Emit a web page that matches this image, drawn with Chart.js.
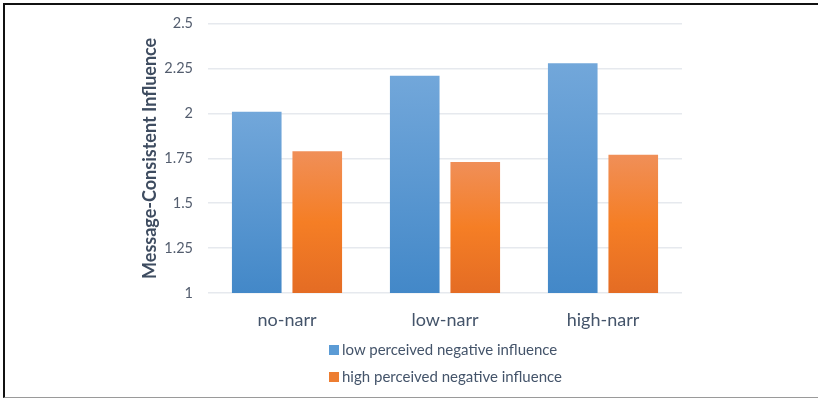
<!DOCTYPE html>
<html>
<head>
<meta charset="utf-8">
<script src="https://cdn.jsdelivr.net/npm/chart.js@4/dist/chart.umd.min.js"></script>
<style>
  html, body { margin: 0; padding: 0; background: #fff; }
  #wrap { position: relative; width: 818px; height: 398px; }
  #frame { position: absolute; left: 3px; top: 3px; width: 813px; height: 392px;
    border-top: 2px solid #111; border-left: 2px solid #111;
    border-bottom: 1px solid #9a9a9a; border-right: 1px solid #9a9a9a; pointer-events: none; }
  #legend { position: absolute; left: 329px; top: 339px; margin: 0; padding: 0; list-style: none;
    font-family: Lato, "Open Sans", sans-serif; font-size: 15px; color: #44546A; }
  #legend li { height: 27px; line-height: 21px; white-space: nowrap; }
  #legend span.box { display: inline-block; width: 10px; height: 10px; margin-right: 3px; vertical-align: -0px; }
</style>
</head>
<body>
<div id="wrap">
  <canvas id="bar-chart" width="818" height="398"></canvas>
  <ul id="legend"></ul>
  <div id="frame"></div>
</div>
<script>
// chart data
var categories = ['no-narr', 'low-narr', 'high-narr'];
var lowInfluence = [2.01, 2.21, 2.28];
var highInfluence = [1.79, 1.73, 1.77];
var yTicks = [1, 1.25, 1.5, 1.75, 2, 2.25, 2.5];

var seriesNames = ['low perceived negative influence', 'high perceived negative influence'];
var legendColors = ['#5B9BD5', '#ED7D31'];

// gradient per bar, top of bar to axis
makeGradient = function (stops) {
  return function (ctx) {
    var chart = ctx.chart;
    if (!chart.chartArea || !chart.scales.y || ctx.raw == null) return stops[stops.length - 1][1];
    var y = chart.scales.y;
    var top = y.getPixelForValue(ctx.raw);
    var bottom = y.getPixelForValue(y.min);
    var g = chart.ctx.createLinearGradient(0, top, 0, bottom);
    stops.forEach(s => g.addColorStop(s[0], s[1]));
    return g;
  };
}

var blueStops = [[0, '#72A7DA'], [1, '#4388C8']];
var orangeStops = [[0, '#F08F58'], [0.5, '#F57E25'], [1, '#E46C24']];

// html legend, built from the datasets
var htmlLegend = {
  id: 'htmlLegend',
  afterUpdate: function (chart) {
    var ul = document.getElementById('legend');
    ul.innerHTML = '';
    chart.data.datasets.forEach((ds, i) => {
      var li = document.createElement('li');
      li.innerHTML = '<span class="box" style="background:' + legendColors[i] + '"></span>' + ds.label;
      ul.appendChild(li);
    });
  }
};

var ctx = document.getElementById('bar-chart').getContext('2d');
var barChart = new Chart(ctx, {
  type: 'bar',
  data: {
    labels: categories,
    datasets: [
      { label: seriesNames[0], data: lowInfluence, backgroundColor: makeGradient(blueStops) },
      { label: seriesNames[1], data: highInfluence, backgroundColor: makeGradient(orangeStops) }
    ]
  },
  options: {
    responsive: false,
    animation: false,
    layout: { padding: { left: 0, right: 136, top: 23, bottom: 0 } },
    datasets: { bar: { categoryPercentage: 0.766, barPercentage: 0.82 } },
    plugins: {
      legend: { display: false },
      tooltip: { enabled: false }
    },
    scales: {
      x: {
        grid: { display: false, drawTicks: false },
        border: { display: false },
        ticks: { padding: 16, color: '#44546A', font: { family: 'Lato', size: 18 } },
        afterFit: function (scale) { scale.height = 105; }
      },
      y: {
        min: 1,
        max: 2.5,
        afterBuildTicks: function (scale) { scale.ticks = yTicks.map(v => ({ value: v })); },
        grid: { color: '#E6E9EE', lineWidth: 1.5, drawTicks: false },
        border: { display: false },
        ticks: { padding: 15, color: '#535D6E', font: { family: 'Lato', size: 14.5 },
          callback: function (v) { return String(v); } },
        title: {
          display: true,
          text: 'Message-Consistent Influence',
          color: '#3E4C60',
          font: { family: 'Lato', size: 18, weight: 'bold' },
          padding: { top: 139, bottom: 0 }
        },
        afterFit: function (scale) { scale.width = 208; }
      }
    }
  },
  plugins: [htmlLegend]
});
</script>
</body>
</html>
